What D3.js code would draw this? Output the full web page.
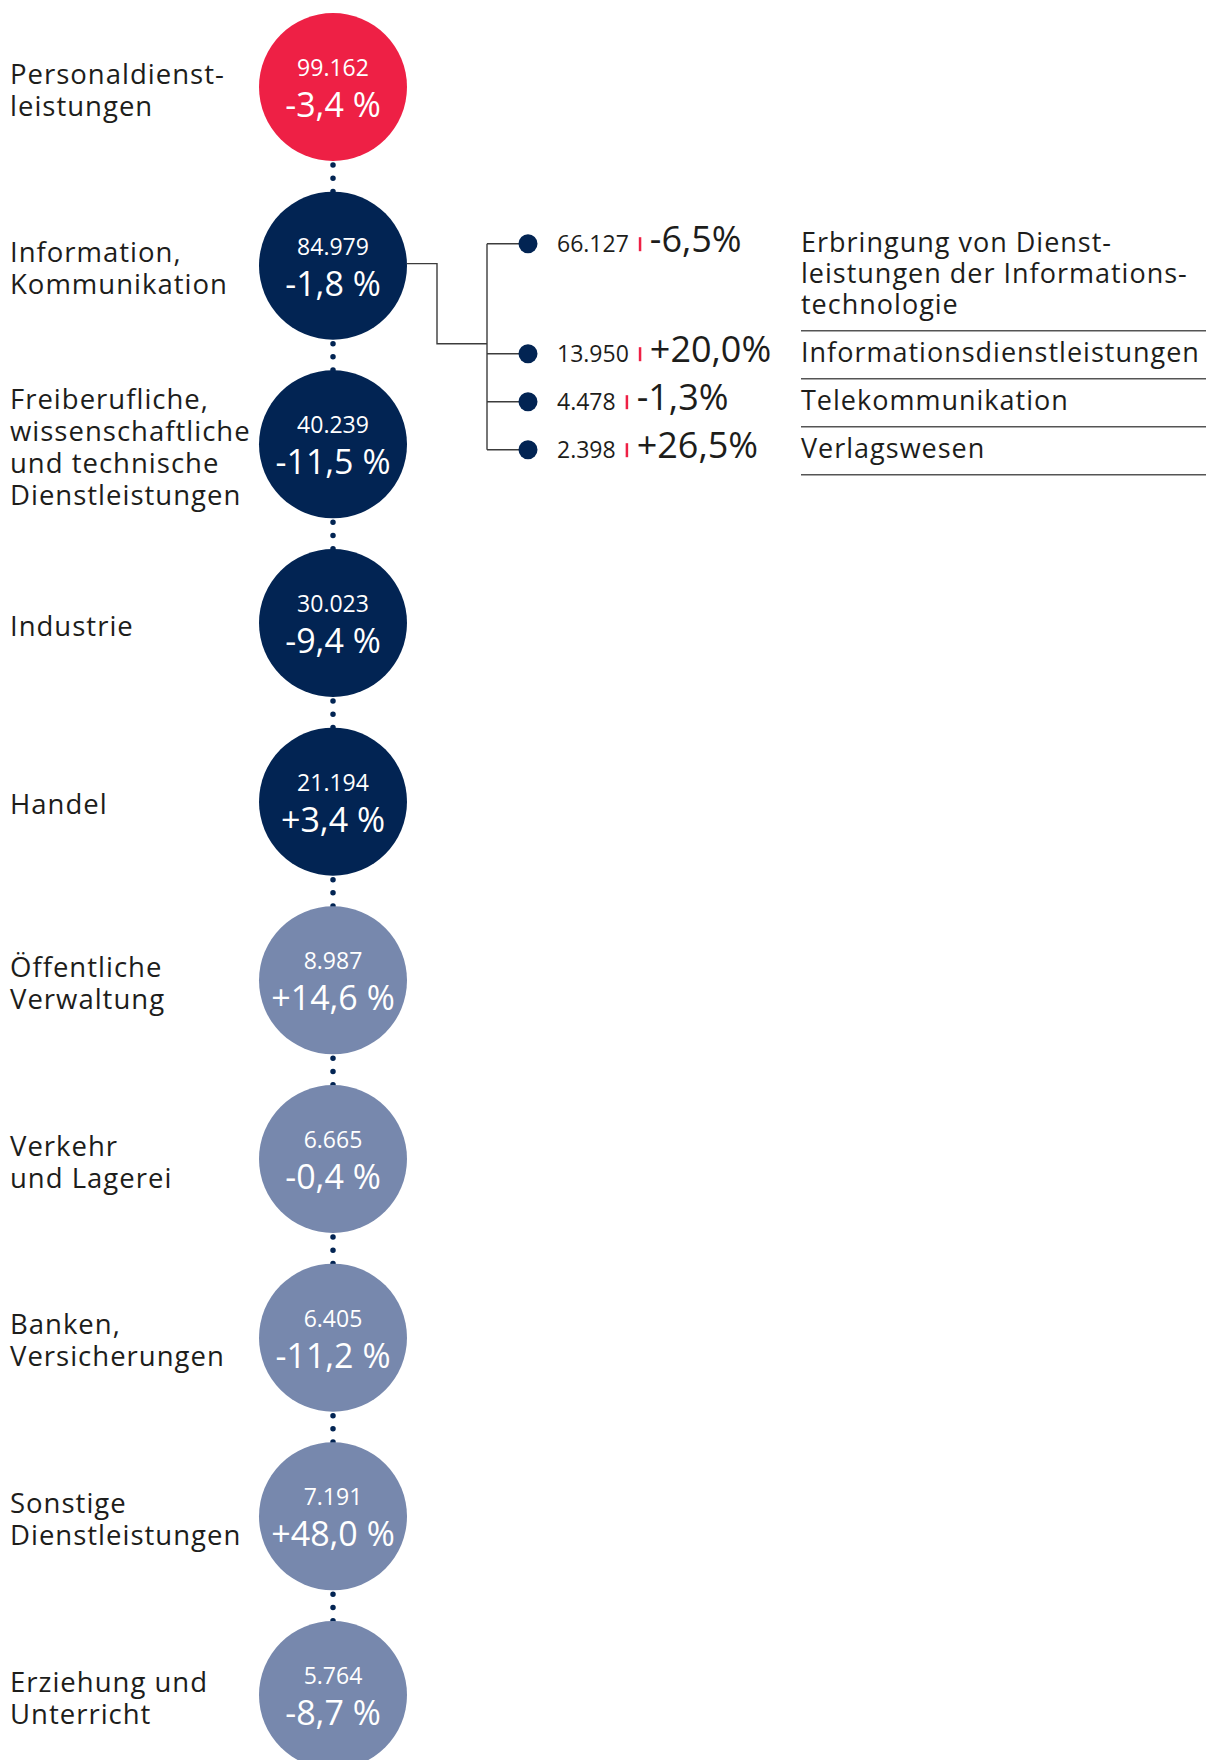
<!DOCTYPE html>
<html>
<head>
<meta charset="utf-8">
<script src="https://cdn.jsdelivr.net/npm/d3@7"></script>
<style>
  body { margin: 0; background: #fff; }
  text { font-family: "Open Sans", sans-serif; }
</style>
</head>
<body>
<svg id="chart" width="1209" height="1760"></svg>
<script>
// sectors, top to bottom
var sectors = [
  "Personaldienst-\nleistungen",
  "Information,\nKommunikation",
  "Freiberufliche,\nwissenschaftliche\nund technische\nDienstleistungen",
  "Industrie",
  "Handel",
  "Öffentliche\nVerwaltung",
  "Verkehr\nund Lagerei",
  "Banken,\nVersicherungen",
  "Sonstige\nDienstleistungen",
  "Erziehung und\nUnterricht"
];
var values = [99162, 84979, 40239, 30023, 21194, 8987, 6665, 6405, 7191, 5764];
var changes = [-3.4, -1.8, -11.5, -9.4, 3.4, 14.6, -0.4, -11.2, 48.0, -8.7];
var groups = ["lead", "top", "top", "top", "top", "rest", "rest", "rest", "rest", "rest"];

// breakdown of one sector
var subParent = "Information,\nKommunikation";
var subLabels = [
  "Erbringung von Dienst-\nleistungen der Informations-\ntechnologie",
  "Informationsdienstleistungen",
  "Telekommunikation",
  "Verlagswesen"
];
var subValues = [66127, 13950, 4478, 2398];
var subChanges = [-6.5, 20.0, -1.3, 26.5];

var width = 1209;
var height = 1760;
var cx = 333;
var r = 74;
var textColor = "#1d1d1b";
var navy = "#022453";

var de = d3.formatLocale({ decimal: ",", thousands: ".", grouping: [3], currency: ["", " €"], minus: "-" });
var fmtVal = de.format(",d");
var fmtChg = de.format("+.1f");

var color = d3.scaleOrdinal()
  .domain(["lead", "top", "rest"])
  .range(["#ee2045", navy, "#7788ad"]);

var y = d3.scalePoint()
  .domain(sectors)
  .range([87, 1695]);

var svg = d3.select("#chart");
svg.append("rect").attr("width", width).attr("height", height).attr("fill", "#fff");

// dotted links between the circles
var pairs = d3.pairs(sectors);
svg.append("g")
  .selectAll("line")
  .data(pairs)
  .enter().append("line")
  .attr("x1", cx).attr("x2", cx)
  .attr("y1", function (d) { return y(d[0]) + r + 4; })
  .attr("y2", function (d) { return y(d[1]) - r + 4; })
  .attr("stroke", navy)
  .attr("stroke-width", 5.5)
  .attr("stroke-linecap", "round")
  .attr("stroke-dasharray", "0,13.2");

var rows = sectors.map(function (s, i) {
  return { name: s, value: values[i], change: changes[i], group: groups[i] };
});

var node = svg.append("g")
  .selectAll("g")
  .data(rows)
  .enter().append("g")
  .attr("transform", function (d) { return "translate(0," + y(d.name) + ")"; });

node.append("circle")
  .attr("cx", cx)
  .attr("r", r)
  .attr("fill", function (d) { return color(d.group); });

node.append("text")
  .attr("x", cx)
  .attr("y", -11)
  .attr("text-anchor", "middle")
  .attr("fill", "#fff")
  .style("font-size", "23px")
  .text(function (d) { return fmtVal(d.value); });

node.append("text")
  .attr("x", cx)
  .attr("y", 30)
  .attr("text-anchor", "middle")
  .attr("fill", "#fff")
  .style("font-size", "34px")
  .text(function (d) { return fmtChg(d.change) + " %"; });

// sector labels, left
var lineH = 32;
node.append("text")
  .attr("fill", textColor)
  .style("font-size", "27.5px")
  .style("letter-spacing", "1px")
  .each(function (d) {
    var lines = d.name.split("\n");
    var first = 3 + 9.5 - (lines.length - 1) * lineH / 2;
    d3.select(this).selectAll("tspan")
      .data(lines)
      .enter().append("tspan")
      .attr("x", 10)
      .attr("y", function (l, j) { return first + j * lineH; })
      .text(function (l) { return l; });
  });

// breakdown rows on the right
var subLineH = 31;
var subRows = [];
var base = 251.7;
subLabels.forEach(function (s, i) {
  var lines = s.split("\n");
  var last = base + (lines.length - 1) * subLineH;
  subRows.push({ label: lines, value: subValues[i], change: subChanges[i], baseline: base, sep: last + 17 });
  base = last + 17 + subLineH;
});

var dotX = 528;
var trunkX = 487;
var elbowX = 437;
var dotYs = subRows.map(function (d) { return d.baseline - 8; });
var elbowY = (d3.min(dotYs) + d3.max(dotYs)) / 2 - 3;
var py = y(subParent);

var link = svg.append("g")
  .attr("fill", "none")
  .attr("stroke", "#3c3c3c")
  .attr("stroke-width", 1.4);

link.append("path")
  .attr("d", "M" + (cx + r) + "," + (py - 2) + "H" + elbowX + "V" + elbowY + "H" + trunkX);
link.append("path")
  .attr("d", "M" + trunkX + "," + d3.min(dotYs) + "V" + d3.max(dotYs));
link.selectAll("line")
  .data(subRows)
  .enter().append("line")
  .attr("x1", trunkX)
  .attr("x2", dotX)
  .attr("y1", function (d) { return d.baseline - 8; })
  .attr("y2", function (d) { return d.baseline - 8; });

var sub = svg.append("g")
  .selectAll("g")
  .data(subRows)
  .enter().append("g");

sub.append("circle")
  .attr("cx", dotX)
  .attr("cy", function (d) { return d.baseline - 8; })
  .attr("r", 9.5)
  .attr("fill", navy);

sub.each(function (d) {
  var g = d3.select(this);
  var num = g.append("text")
    .attr("x", 557)
    .attr("y", d.baseline)
    .attr("fill", textColor)
    .style("font-size", "23px")
    .text(fmtVal(d.value));
  var end = 557 + num.node().getComputedTextLength();
  g.append("rect")
    .attr("x", end + 10)
    .attr("y", d.baseline - 14.5)
    .attr("width", 2.5)
    .attr("height", 14)
    .attr("fill", "#ee2045");
  g.append("text")
    .attr("x", end + 21)
    .attr("y", d.baseline)
    .attr("fill", textColor)
    .style("font-size", "36px")
    .text(fmtChg(d.change) + "%");

  g.append("text")
    .attr("fill", textColor)
    .style("font-size", "27px")
    .style("letter-spacing", "1px")
    .selectAll("tspan")
    .data(d.label)
    .enter().append("tspan")
    .attr("x", 801)
    .attr("y", function (l, j) { return d.baseline + j * subLineH; })
    .text(function (l) { return l; });

  g.append("line")
    .attr("x1", 801)
    .attr("x2", 1206)
    .attr("y1", d.sep)
    .attr("y2", d.sep)
    .attr("stroke", "#555")
    .attr("stroke-width", 1.5);
});
</script>
</body>
</html>
